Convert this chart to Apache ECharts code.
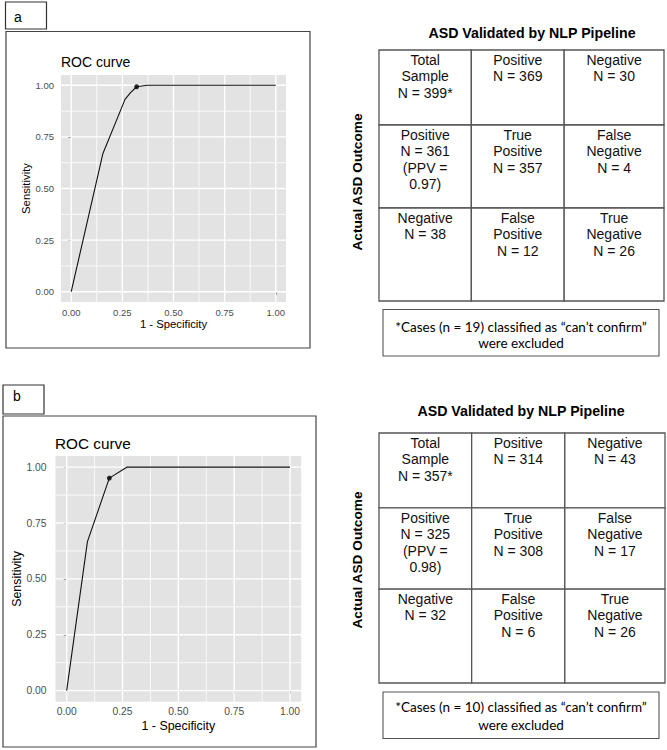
<!DOCTYPE html>
<html><head><meta charset="utf-8">
<script src="https://cdn.jsdelivr.net/npm/echarts@6/dist/echarts.min.js"></script>
<style>html,body{margin:0;padding:0;background:#fff}#c{width:667px;height:750px}</style>
</head><body><div id="c"></div><script>
// ---- data ----
const rocTicks = [0, 0.25, 0.5, 0.75, 1];
const rocMinor = [0.125, 0.375, 0.625, 0.875];
const rocAX = [0, 0.155, 0.263, 0.29, 0.32, 0.37, 1];
const rocAY = [0, 0.67, 0.932, 0.965, 0.993, 1, 1];
const optAX = [0.32];
const optAY = [0.993];
const rocBX = [0, 0.093, 0.191, 0.269, 1];
const rocBY = [0, 0.667, 0.951, 1, 1];
const optBX = [0.191];
const optBY = [0.951];
const cellTitles = [["Total","Sample"],["Positive"],["Negative"],["Positive"],["True","Positive"],["False","Negative"],["Negative"],["False","Positive"],["True","Negative"]];
const countsA = [399, 369, 30, 361, 357, 4, 38, 12, 26];
const countsB = [357, 314, 43, 325, 308, 17, 32, 6, 26];
const ppvA = 0.97;
const ppvB = 0.98;
const excludedA = 19;
const excludedB = 10;
const cellCols = [0,1,2,0,1,2,0,1,2];
const cellRows = [0,0,0,1,1,1,2,2,2];

// ---- layout ----
const colEdges = [0, 92.5, 185.5, 285.5];
const rowEdgesA = [0, 75, 158, 251];
const rowEdgesB = [0, 75, 156.5, 250.5];
const LO = -0.05, HI = 1.05;
const F = '"Liberation Sans", Arial, sans-serif';
const FN = '13.5px Lato, "Open Sans", sans-serif';

function cellTexts(counts, ppv) {
  return counts.map((n, i) => {
    const lines = cellTitles[i].slice();
    lines.push('N = ' + n + (i === 0 ? '*' : ''));
    if (i === 3) { lines.push('(PPV ='); lines.push(ppv.toFixed(2) + ')'); }
    return lines.join('\n');
  });
}
const textsA = cellTexts(countsA, ppvA);
const textsB = cellTexts(countsB, ppvB);
const cellData = cellCols.map((c, i) => [c, cellRows[i]]);

function makeRender(texts, rowEdges) {
  return function (params, api) {
    const c = api.value(0), r = api.value(1);
    const p0 = api.coord([colEdges[c], rowEdges[r]]);
    const p1 = api.coord([colEdges[c + 1], rowEdges[r + 1]]);
    return { type: 'group', children: [
      { type: 'rect', shape: { x: p0[0], y: p0[1], width: p1[0] - p0[0], height: p1[1] - p0[1] },
        style: { fill: '#fff', stroke: '#555', lineWidth: 1.3 } },
      { type: 'text', x: (p0[0] + p1[0]) / 2, y: p0[1] + 1.5,
        style: { text: texts[params.dataIndex], font: '14px ' + F, fill: '#111', align: 'center', verticalAlign: 'top', lineHeight: 16.5 } }
    ] };
  };
}

function rocXAxis(gi, fs, nfs, gap) {
  return { gridIndex: gi, type: 'value', min: LO, max: HI,
    axisLine: { show: false }, splitLine: { show: false },
    axisTick: { show: true, customValues: rocTicks, length: 3, lineStyle: { color: '#333', width: 1 } },
    axisLabel: { customValues: rocTicks, formatter: v => Number(v).toFixed(2), color: '#4D4D4D', fontSize: fs, fontFamily: F, margin: 5 },
    name: '1 - Specificity', nameLocation: 'middle', nameGap: gap, nameTextStyle: { color: '#000', fontSize: nfs, fontFamily: F } };
}
function rocYAxis(gi, fs, nfs, gap, margin) {
  return { gridIndex: gi, type: 'value', min: LO, max: HI,
    axisLine: { show: false }, splitLine: { show: false },
    axisTick: { show: true, customValues: rocTicks, length: 3, lineStyle: { color: '#333', width: 1 } },
    axisLabel: { customValues: rocTicks, formatter: v => Number(v).toFixed(2), color: '#4D4D4D', fontSize: fs, fontFamily: F, margin: margin },
    name: 'Sensitivity', nameLocation: 'middle', nameGap: gap, nameTextStyle: { color: '#000', fontSize: nfs, fontFamily: F } };
}
function panelBg(gi) {
  return { type: 'custom', xAxisIndex: gi, yAxisIndex: gi, z: 0, silent: true, clip: false,
    data: [[0.5, 0.5]],
    renderItem: function (params, api) {
      const a = api.coord([LO, HI]), b = api.coord([HI, LO]);
      return { type: 'rect', shape: { x: a[0], y: a[1], width: b[0] - a[0], height: b[1] - a[1] }, style: { fill: '#E3E3E3' } };
    } };
}
// gridlines as line series segments separated by gaps
function gridSeries(gi, vals, w) {
  const d = [];
  vals.forEach(v => { d.push([v, LO], [v, HI], ['-', '-']); d.push([LO, v], [HI, v], ['-', '-']); });
  return { type: 'line', xAxisIndex: gi, yAxisIndex: gi, data: d, symbol: 'none', z: 1, silent: true,
    connectNulls: false, lineStyle: { color: '#FFFFFF', width: w }, emphasis: { disabled: true } };
}
const zip = (xs, ys) => xs.map((x, i) => [x, ys[i]]);

const chart = echarts.init(document.getElementById('c'), null, { renderer: 'svg' });
chart.setOption({
  animation: false,
  backgroundColor: '#fff',
  grid: [
    { left: 61, top: 75, width: 225, height: 227 },
    { left: 55.5, top: 456, width: 245.7, height: 245.8 },
    { left: 379, top: 50, width: 285, height: 251 },
    { left: 379, top: 433, width: 286, height: 250 }
  ],
  xAxis: [
    rocXAxis(0, 9.5, 11.3, 16),
    rocXAxis(1, 10.3, 12.4, 18),
    { gridIndex: 2, type: 'value', min: 0, max: 285.5, show: false },
    { gridIndex: 3, type: 'value', min: 0, max: 285.5, show: false }
  ],
  yAxis: [
    rocYAxis(0, 9.5, 11.3, 27, 7),
    rocYAxis(1, 10.3, 12.4, 28, 9),
    { gridIndex: 2, type: 'value', min: 0, max: 251, inverse: true, show: false },
    { gridIndex: 3, type: 'value', min: 0, max: 250.5, inverse: true, show: false }
  ],
  graphic: [
    { type: 'rect', shape: { x: 5.5, y: 2, width: 41, height: 27 }, style: { fill: 'none', stroke: '#333', lineWidth: 1.2 } },
    { type: 'text', x: 14, y: 17, style: { text: 'a', font: '14px ' + F, fill: '#000', verticalAlign: 'middle' } },
    { type: 'rect', shape: { x: 6, y: 31.5, width: 304, height: 316.5 }, style: { fill: 'none', stroke: '#444', lineWidth: 1.2 } },
    { type: 'text', x: 61, y: 62, style: { text: 'ROC curve', font: '14px ' + F, fill: '#000', verticalAlign: 'middle' } },
    { type: 'rect', shape: { x: 3, y: 385, width: 41, height: 29 }, style: { fill: 'none', stroke: '#333', lineWidth: 1.2 } },
    { type: 'text', x: 13, y: 396, style: { text: 'b', font: '14px ' + F, fill: '#000', verticalAlign: 'middle' } },
    { type: 'rect', shape: { x: 3, y: 416, width: 313, height: 331 }, style: { fill: 'none', stroke: '#444', lineWidth: 1.2 } },
    { type: 'text', x: 55, y: 443, style: { text: 'ROC curve', font: '15.3px ' + F, fill: '#000', verticalAlign: 'middle' } },
    { type: 'text', x: 532, y: 33, style: { text: 'ASD Validated by NLP Pipeline', font: 'bold 14.2px ' + F, fill: '#000', align: 'center', verticalAlign: 'middle' } },
    { type: 'text', x: 521, y: 411, style: { text: 'ASD Validated by NLP Pipeline', font: 'bold 14.2px ' + F, fill: '#000', align: 'center', verticalAlign: 'middle' } },
    { type: 'text', x: 357, y: 182, rotation: Math.PI / 2, style: { text: 'Actual ASD Outcome', font: 'bold 13.7px ' + F, fill: '#000', align: 'center', verticalAlign: 'middle' } },
    { type: 'text', x: 357, y: 560, rotation: Math.PI / 2, style: { text: 'Actual ASD Outcome', font: 'bold 13.7px ' + F, fill: '#000', align: 'center', verticalAlign: 'middle' } },
    { type: 'rect', shape: { x: 383, y: 309.5, width: 276, height: 46.5 }, style: { fill: '#fff', stroke: '#555', lineWidth: 1.1 } },
    { type: 'text', x: 521, y: 326.7, style: { text: '*Cases (n = ' + excludedA + ') classified as \u201ccan\u2019t confirm\u201d', font: FN, fill: '#000', align: 'center', verticalAlign: 'middle' } },
    { type: 'text', x: 521, y: 343.3, style: { text: 'were excluded', font: FN, fill: '#000', align: 'center', verticalAlign: 'middle' } },
    { type: 'rect', shape: { x: 383, y: 692, width: 276, height: 46.5 }, style: { fill: '#fff', stroke: '#555', lineWidth: 1.1 } },
    { type: 'text', x: 521, y: 707.3, style: { text: '*Cases (n = ' + excludedB + ') classified as \u201ccan\u2019t confirm\u201d', font: FN, fill: '#000', align: 'center', verticalAlign: 'middle' } },
    { type: 'text', x: 521, y: 725, style: { text: 'were excluded', font: FN, fill: '#000', align: 'center', verticalAlign: 'middle' } }
  ],
  series: [
    panelBg(0),
    panelBg(1),
    gridSeries(0, rocMinor, 0.8),
    gridSeries(0, rocTicks, 1.4),
    gridSeries(1, rocMinor, 0.8),
    gridSeries(1, rocTicks, 1.4),
    { type: 'line', xAxisIndex: 0, yAxisIndex: 0, data: zip(rocAX, rocAY), symbol: 'none', z: 3,
      lineStyle: { color: '#111', width: 1.1 } },
    { type: 'scatter', xAxisIndex: 0, yAxisIndex: 0, data: zip(optAX, optAY), symbolSize: 5, z: 4,
      itemStyle: { color: '#000' } },
    { type: 'line', xAxisIndex: 1, yAxisIndex: 1, data: zip(rocBX, rocBY), symbol: 'none', z: 3,
      lineStyle: { color: '#111', width: 1.1 } },
    { type: 'scatter', xAxisIndex: 1, yAxisIndex: 1, data: zip(optBX, optBY), symbolSize: 5, z: 4,
      itemStyle: { color: '#000' } },
    { type: 'custom', xAxisIndex: 2, yAxisIndex: 2, data: cellData, renderItem: makeRender(textsA, rowEdgesA), silent: true },
    { type: 'custom', xAxisIndex: 3, yAxisIndex: 3, data: cellData, renderItem: makeRender(textsB, rowEdgesB), silent: true }
  ]
});
</script></body></html>
